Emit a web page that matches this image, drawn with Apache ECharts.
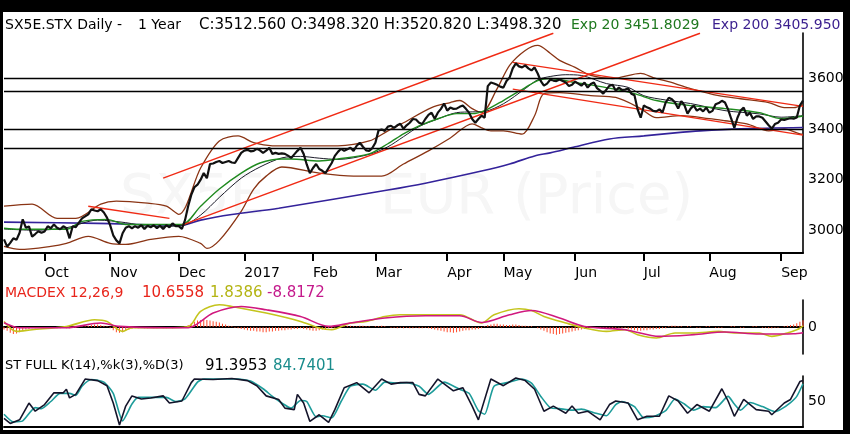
<!DOCTYPE html>
<html><head><meta charset="utf-8">
<script src="https://cdn.jsdelivr.net/npm/echarts@6/dist/echarts.min.js"></script>
<style>html,body{margin:0;padding:0;background:#fff}#c{width:850px;height:434px}</style>
</head><body><div id="c"></div>
<script>
// ---- categories (trading days) ----
const startDate = '2016-09-14', endDate = '2017-09-12';
const holidays = ['2016-12-26', '2017-04-14', '2017-04-17'];
const monthAbbr = ['Jan','Feb','Mar','Apr','May','Jun','Jul','Aug','Sep','Oct','Nov','Dec'];

// ---- price (daily close) ----
const closePrice = [
2964,2935,2950,2968,2962,2990,3043,3010,3015,2975,
2985,2996,2990,2995,3016,3008,3023,3010,3004,3016,
3008,2968,3016,3012,3030,3047,3055,3063,3083,3078,
3075,3083,3070,3050,3020,2980,2960,2948,2988,3010,
3016,3008,3016,3010,3020,3005,3018,3012,3020,3008,
3018,3005,3020,3012,3027,3016,3016,3005,3040,3095,
3140,3170,3180,3200,3226,3206,3262,3264,3270,3274,
3266,3270,3274,3268,3266,3286,3306,3315,3318,3312,
3314,3322,3316,3306,3315,3326,3302,3306,3302,3304,
3302,3295,3286,3300,3314,3326,3302,3260,3226,3246,
3262,3242,3235,3226,3246,3266,3294,3310,3322,3314,
3320,3326,3314,3334,3346,3330,3316,3314,3325,3346,
3395,3398,3393,3410,3413,3405,3415,3421,3401,3415,
3425,3440,3438,3425,3420,3440,3456,3465,3441,3465,
3480,3501,3473,3485,3480,3481,3488,3493,3480,3465,
3440,3425,3440,3453,3445,3570,3584,3580,3575,3568,
3564,3590,3604,3640,3660,3648,3644,3652,3640,3632,
3644,3620,3590,3572,3580,3595,3592,3590,3596,3590,
3584,3570,3575,3588,3580,3572,3584,3564,3578,3584,
3562,3552,3540,3556,3572,3575,3552,3564,3555,3556,
3560,3540,3534,3478,3445,3493,3486,3481,3472,3470,
3478,3466,3505,3524,3518,3505,3481,3510,3495,3461,
3481,3493,3473,3481,3470,3485,3465,3472,3498,3503,
3512,3505,3478,3441,3405,3445,3473,3485,3453,3465,
3440,3450,3450,3445,3430,3415,3402,3420,3425,3438,
3436,3440,3443,3441,3446,3493,3513
];

// ---- overlays, read as [day index, value] ----
const ema20 = [[0,3008],[5,3004],[20,3004],[25,3035],[33,3043],[39,3023],[47,3023],[57,3023],[63,3095],[69,3163],[76,3226],[82,3266],[89,3282],[92,3282],[101,3274],[107,3282],[117,3302],[123,3342],[128,3381],[133,3413],[139,3441],[145,3461],[150,3461],[154,3473],[160,3513],[167,3564],[171,3592],[175,3600],[183,3584],[193,3564],[202,3540],[209,3513],[220,3493],[231,3481],[242,3465],[249,3441],[256,3452]];
const sma20 = [[0,3005],[10,3000],[20,3010],[30,3040],[39,3030],[47,3015],[57,3018],[63,3060],[69,3130],[76,3206],[82,3250],[89,3286],[95,3292],[101,3285],[107,3280],[117,3300],[123,3330],[128,3370],[133,3410],[139,3440],[145,3465],[150,3468],[154,3470],[160,3500],[167,3560],[171,3595],[175,3608],[180,3615],[185,3612],[193,3580],[200,3565],[205,3532],[212,3515],[220,3501],[231,3473],[242,3460],[249,3447],[256,3453]];
const bbUpper = [[0,3095],[9,3103],[17,3047],[23,3047],[31,3103],[36,3115],[46,3107],[52,3095],[56,3063],[63,3246],[69,3353],[75,3373],[80,3346],[86,3334],[94,3334],[107,3334],[117,3353],[123,3393],[128,3425],[137,3485],[143,3505],[146,3513],[150,3481],[153,3465],[158,3560],[162,3652],[167,3711],[171,3731],[175,3700],[178,3672],[183,3644],[188,3612],[195,3600],[204,3620],[208,3604],[215,3580],[220,3560],[229,3532],[236,3520],[245,3505],[250,3485],[253,3485],[256,3497]];
const bbLower = [[0,2936],[5,2924],[15,2936],[20,2948],[27,2976],[34,2948],[39,2944],[47,2964],[56,2976],[63,2948],[65,2928],[69,2960],[76,3075],[80,3163],[84,3214],[89,3250],[101,3226],[112,3214],[121,3214],[128,3262],[136,3314],[143,3365],[150,3421],[153,3405],[156,3393],[160,3393],[166,3380],[170,3453],[173,3540],[178,3544],[188,3532],[196,3525],[204,3481],[209,3445],[217,3453],[226,3441],[231,3433],[238,3421],[245,3393],[250,3401],[255,3381],[256,3380]];
const ema200 = [[0,3032],[30,3027],[57,3020],[63,3040],[73,3062],[88,3087],[123,3159],[135,3186],[153,3234],[162,3262],[170,3294],[175,3306],[183,3330],[194,3361],[205,3373],[215,3385],[223,3393],[236,3401],[256,3406]];
const trendLines = [
  [[51,3206],[176,3779]],
  [[57,3020],[223,3779]],
  [[27,3095],[53,3047]],
  [[163,3664],[256,3490]],
  [[163,3558],[256,3376]]
];
const priceLevels = [3600, 3550, 3400, 3325];
const priceTicks = [3000, 3200, 3400, 3600];

// ---- MACD ----
const macdLine = [[0,8.7],[4,-6.8],[9,-4.2],[20,0.9],[29,11.3],[33,8.7],[38,-6.8],[41,-1.1],[52,-1.1],[59,0.5],[63,24.2],[69,34.6],[73,31.9],[84,21.7],[95,8.7],[101,-1.6],[105,-4.2],[111,6.2],[116,8.7],[122,16.4],[127,19.1],[135,19.1],[146,19.1],[153,6.2],[157,19.1],[165,28.4],[169,25.7],[173,16.4],[180,6.2],[186,-1.6],[193,-6.8],[199,-4.2],[203,-11.9],[209,-17],[215,-9.3],[221,-9.3],[229,-6.8],[234,-9.3],[242,-9.3],[246,-14.6],[251,-9.3],[254,-4.2],[255,-2],[256,1.8386]];
const macdSignal = [[0,6.7],[5,-1.1],[20,-1.1],[31,6.2],[37,0.9],[52,-1.1],[59,-1.1],[67,21.7],[76,31.9],[84,26.8],[95,16.4],[104,0.9],[111,6.2],[122,14],[135,17.5],[146,17.5],[153,7.1],[162,19.1],[169,25.7],[178,14],[186,0.9],[199,-4.2],[210,-14.6],[221,-11.9],[231,-7.8],[242,-10.9],[253,-10.4],[256,-8.8172]];
const macdHist = [
-4,-6,-9,-11,-10,-8,-6,-4,-3,
-2,-2,-1,-2,-2,-1,-2,-1,-2,-2,-1,-2,-2,-1,-1,0,1,1,2,
3,4,4,3,2,1,
-2,-5,-8,-9,-8,-6,-4,
-3,-2,-2,-1,-2,-2,-1,-2,-2,-1,-2,-2,-1,-2,-1,-1,0,1,
3,6,8,10,11,12,11,10,9,8,7,5,4,2,1,
-1,-2,-3,-4,-5,-6,-6,-7,-7,-8,-8,-7,-7,-6,-6,-5,-5,-4,-4,-3,-3,-2,-3,-4,-5,-6,-6,-5,-4,-3,-2,-2,-1,
0,1,1,2,2,1,1,2,2,1,1,0,1,1,2,1,0,-1,-1,-2,-1,-2,-1,-2,-2,-1,-2,-2,-1,
-2,-3,-4,-5,-6,-7,-8,-8,-9,-8,-7,-6,-5,-5,-4,-4,-3,-2,
1,3,4,5,5,4,4,3,3,4,4,3,2,2,1,1,0,
-2,-4,-6,-8,-10,-11,-12,-11,-10,-9,-8,-7,-6,-5,-4,-3,
-2,-2,-1,-2,-2,-1,-2,-1,-2,-2,-1,-2,-2,-3,
-4,-5,-6,-6,-5,-5,-4,-4,-3,-3,-2,-2,
1,2,2,1,1,0,1,1,0,-1,-1,0,1,1,0,-1,-1,-1,0,0,1,1,0,-1,-1,0,0,1,1,0,-1,-1,-2,-2,-1,-1,0,1,2,3,4,6,8,10.6558
];
const macdTicks = [0];

// ---- Stochastic ----
const stochK = [[0,17],[2,7],[5,14],[8,47],[10,31],[13,44],[16,67],[19,67],[20,74],[21,57],[23,64],[26,94],[30,91],[33,81],[35,47],[37,4],[39,41],[41,61],[44,55],[47,57],[51,61],[53,47],[57,51],[60,87],[61,94],[67,93],[73,95],[78,91],[81,81],[84,61],[88,54],[90,37],[93,34],[94,64],[96,47],[98,11],[101,24],[104,9],[106,34],[109,77],[113,87],[117,67],[121,94],[124,84],[127,87],[131,87],[133,64],[135,61],[139,94],[144,71],[147,77],[150,41],[152,14],[156,94],[160,81],[164,96],[167,91],[170,74],[173,31],[176,41],[180,27],[182,41],[184,27],[187,31],[191,14],[194,44],[196,51],[200,47],[203,14],[206,21],[210,21],[213,61],[216,51],[219,27],[222,44],[226,31],[230,75],[232,51],[234,21],[237,54],[241,34],[245,31],[246,24],[250,47],[252,54],[255,89],[256,91.3953]];
const stochD = [[0,25],[3,10],[6,12],[10,38],[12,36],[15,50],[18,66],[21,66],[23,62],[25,80],[28,93],[32,88],[35,66],[38,12],[41,45],[43,58],[48,58],[52,58],[55,50],[58,55],[62,88],[64,94],[70,94],[75,94],[79,90],[83,75],[86,60],[89,47],[92,37],[95,52],[97,50],[100,20],[102,22],[105,18],[108,50],[111,80],[115,84],[119,72],[122,88],[126,86],[129,87],[133,80],[136,64],[141,88],[146,74],[149,66],[152,32],[154,25],[157,80],[162,88],[166,94],[169,86],[172,60],[175,38],[178,36],[182,33],[185,35],[189,28],[193,22],[196,44],[198,50],[202,40],[205,18],[208,20],[212,32],[215,55],[218,45],[221,33],[224,40],[228,38],[232,60],[234,45],[236,33],[239,48],[243,40],[247,30],[249,35],[252,48],[254,60],[256,84.7401]];
const stochTicks = [50];

// ---- build category list ----
function tradingDays(s, e, hol) {
  const out = [];
  const p = x => x.split('-').map(Number);
  const [sy, sm, sd] = p(s), [ey, em, ed] = p(e);
  const d = new Date(Date.UTC(sy, sm - 1, sd)), end = new Date(Date.UTC(ey, em - 1, ed));
  while (d <= end) {
    const wd = d.getUTCDay();
    const str = d.toISOString().slice(0, 10);
    if (wd !== 0 && wd !== 6 && hol.indexOf(str) < 0) out.push(str);
    d.setUTCDate(d.getUTCDate() + 1);
  }
  return out;
}
const dates = tradingDays(startDate, endDate, holidays);
const isMonthStart = (i) => i > 0 && dates[i].slice(0, 7) !== dates[i - 1].slice(0, 7);

const FONT = '"DejaVu Sans"';
const C = {
  price: '#111111', ema20: '#1f8a1f', sma20: '#1c1c2a', bb: '#8a3414', ema200: '#33229a',
  red: '#f02a14', macd: '#c4c41c', signal: '#d0187e', hist: '#ff4a2a', k: '#14142a', d: '#1d9c9a'
};

const chart = echarts.init(document.getElementById('c'), null, { renderer: 'canvas' });

function lineS(name, data, color, width, grid, opts) {
  return Object.assign({
    name, type: 'line', data, xAxisIndex: grid, yAxisIndex: grid,
    symbol: 'none', showSymbol: false, silent: true,
    lineStyle: { color, width }, itemStyle: { color }, z: 3
  }, opts || {});
}

const series = [
  lineS('bbU', bbUpper, C.bb, 1.3, 0, { smooth: 0.3 }),
  lineS('bbL', bbLower, C.bb, 1.3, 0, { smooth: 0.3 }),
  lineS('ema200', ema200, C.ema200, 1.6, 0, { smooth: 0.3 }),
  lineS('sma20', sma20, C.sma20, 1, 0, { smooth: 0.3 }),
  lineS('ema20', ema20, C.ema20, 1.4, 0, { smooth: 0.3 }),
];
trendLines.forEach((t, i) => series.push(lineS('tl' + i, t, C.red, 1.4, 0, { z: 4 })));
series.push(lineS('close', closePrice, C.price, 2.2, 0, {
  z: 5,
  markLine: {
    silent: true, symbol: 'none', label: { show: false },
    lineStyle: { color: '#000', width: 1.3, type: 'solid' },
    data: priceLevels.map(v => ({ yAxis: v }))
  }
}));
series.push({
  name: 'hist', type: 'bar', data: macdHist, xAxisIndex: 1, yAxisIndex: 1,
  barWidth: 1, silent: true, itemStyle: { color: C.hist }, z: 2
});
series.push(lineS('macd', macdLine, C.macd, 1.6, 1, {
  smooth: 0.3,
  markLine: {
    silent: true, symbol: 'none', label: { show: false }, z: 1,
    lineStyle: { color: '#000', width: 2, type: 'solid' },
    data: [{ yAxis: 0 }]
  }
}));
series.push(lineS('signal', macdSignal, C.signal, 1.6, 1, { smooth: 0.3 }));
series.push(lineS('D', stochD, C.d, 1.6, 2, { smooth: 0.2 }));
series.push(lineS('K', stochK, C.k, 1.6, 2, {}));

const gridCommon = { left: 4, right: 47 };
const xCommon = (gi, showLabels) => ({
  type: 'category', data: dates, gridIndex: gi, boundaryGap: false,
  axisLine: { show: true, lineStyle: { color: '#000', width: 2 } },
  axisTick: showLabels ? { show: true, inside: false, length: 8, lineStyle: { color: '#000', width: 2 } } : { show: false },
  axisLabel: showLabels ? {
    show: true, interval: (i) => isMonthStart(i), align: 'left', margin: 13,
    color: '#000', fontSize: 14, fontFamily: FONT,
    formatter: (v) => { const m = +v.slice(5, 7); return m === 1 ? v.slice(0, 4) : monthAbbr[m - 1]; }
  } : { show: false },
  splitLine: { show: false }
});
const yCommon = (gi, min, max, ticks) => ({
  type: 'value', gridIndex: gi, position: 'right', min, max, scale: true,
  axisLine: { show: true, lineStyle: { color: '#000', width: 1.6 } },
  axisTick: { show: false }, splitLine: { show: false },
  axisLabel: { show: true, customValues: ticks, formatter: (v) => String(v), color: '#000', fontSize: 14, fontFamily: FONT, margin: 5 }
});

const txt = (text, x, y, color, size) => ({
  type: 'text', x, y, z: 50, silent: true,
  style: { text, fill: color || '#000', font: (size || 15) + 'px ' + FONT, verticalAlign: 'middle' }
});
const wm = (text, x) => ({
  type: 'text', x, y: 198, z: 0, silent: true,
  style: { text, fill: '#f6f6f6', font: '56px ' + FONT, verticalAlign: 'middle' }
});
const rect = (x, y, w, h) => ({ type: 'rect', shape: { x, y, width: w, height: h }, style: { fill: '#000' }, z: 100, silent: true });

chart.setOption({
  animation: false,
  backgroundColor: '#fff',
  textStyle: { fontFamily: FONT },
  grid: [
    Object.assign({ top: 33, height: 220 }, gridCommon),
    Object.assign({ top: 300, height: 54 }, gridCommon),
    Object.assign({ top: 376, height: 51 }, gridCommon)
  ],
  xAxis: [xCommon(0, true), xCommon(1, false), xCommon(2, false)],
  yAxis: [yCommon(0, 2910, 3780, priceTicks), yCommon(1, -42, 42, macdTicks), yCommon(2, 0, 100, stochTicks)],
  series,
  graphic: [
    wm('SX5E', 120), wm('EUR', 380), wm('(Price)', 513),
    txt('SX5E.STX Daily -', 5, 25, '#000', 14), txt('1 Year', 138, 25, '#000', 14),
    txt('C:3512.560 O:3498.320 H:3520.820 L:3498.320', 199, 25, '#000', 15),
    txt('Exp 20 3451.8029', 571, 25, '#1e781e', 14),
    txt('Exp 200 3405.950', 712, 25, '#3a1e8e', 14),
    txt('MACDEX 12,26,9', 5, 293, '#e8251b', 14), txt('10.6558', 142, 293, '#e8251b', 15),
    txt('1.8386', 210, 293, '#b4b414', 15), txt('-8.8172', 267, 293, '#c41a8c', 15),
    txt('ST FULL K(14),%k(3),%D(3)', 5, 366, '#000', 13), txt('91.3953', 205, 366, '#000', 15), txt('84.7401', 273, 366, '#1a8c8c', 15),
    rect(0, 0, 850, 12), rect(0, 0, 3, 434), rect(843, 0, 7, 434), rect(0, 430, 850, 4)
  ]
});
</script></body></html>
